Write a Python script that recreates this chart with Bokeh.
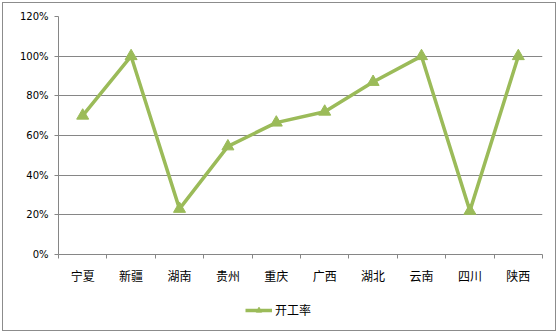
import numpy as np
from bokeh.plotting import figure
from bokeh.layouts import column
from bokeh.models import (ColumnDataSource, FixedTicker, NumeralTickFormatter,
                          Legend, LegendItem, Range1d)
from bokeh.embed import file_html
from bokeh.resources import INLINE

# Capacity utilisation by province
provinces = ["宁夏", "新疆", "湖南", "贵州", "重庆", "广西", "湖北", "云南", "四川", "陕西"]
rate = [0.70, 1.00, 0.23, 0.545, 0.665, 0.72, 0.87, 1.00, 0.22, 1.00]
y_ticks = [0.0, 0.2, 0.4, 0.6, 0.8, 1.0, 1.2]
series_name = "开工率"

GREEN = "#9BBB59"
GREY = "#868686"
CJK = "Noto Sans CJK SC"
LINE_STYLE = dict(line_color=GREEN, line_width=3.5)
MARK_STYLE = dict(marker="triangle", size=12, fill_color=GREEN, line_color=GREEN)

n = len(provinces)
xs = np.arange(n) + 0.5
src = ColumnDataSource(dict(x=xs, y=rate, name=provinces))

p = figure(width=552, height=290, output_backend="svg", toolbar_location=None,
           x_range=Range1d(0, n), y_range=Range1d(0, 1.2),
           min_border_left=55, min_border_right=13, min_border_top=13,
           min_border_bottom=39)
p.outline_line_color = None
p.background_fill_color = "white"
p.border_fill_color = "white"

# x axis: labels at category centres, tick marks on the boundaries
p.xaxis.ticker = FixedTicker(ticks=list(xs), minor_ticks=list(range(n + 1)))
p.xaxis.major_label_overrides = {float(x): name for x, name in zip(xs, provinces)}
p.xaxis.major_tick_line_color = None
p.xaxis.minor_tick_line_color = GREY
p.xaxis.minor_tick_out = 4
p.xaxis.minor_tick_in = 0
p.xaxis.axis_line_color = GREY
p.xaxis.major_label_text_font = CJK
p.xaxis.major_label_text_font_size = "12px"
p.xaxis.major_label_text_color = "black"
p.xaxis.major_label_standoff = 6
p.xgrid.grid_line_color = None

# y axis: percentages
p.yaxis.ticker = FixedTicker(ticks=y_ticks)
p.yaxis.formatter = NumeralTickFormatter(format="0%")
p.yaxis.axis_line_color = GREY
p.yaxis.major_tick_line_color = GREY
p.yaxis.major_tick_out = 4
p.yaxis.major_tick_in = 0
p.yaxis.minor_tick_line_color = None
p.yaxis.major_label_text_font = "DejaVu Sans"
p.yaxis.major_label_text_font_size = "10px"
p.yaxis.major_label_text_color = "black"
p.yaxis.major_label_standoff = 6
p.ygrid.grid_line_color = GREY
p.ygrid.grid_line_width = 1

p.line("x", "y", source=src, **LINE_STYLE)
p.scatter("x", "y", source=src, **MARK_STYLE)

# legend strip under the chart: same source and glyph styles; its y range
# lies below every rate, so only the legend swatch shows
key = figure(width=552, height=37, output_backend="svg", toolbar_location=None,
             x_range=Range1d(0, n), y_range=Range1d(-2, -1),
             x_axis_location=None, y_axis_location=None,
             min_border=0)
key.outline_line_color = None
key.xgrid.grid_line_color = None
key.ygrid.grid_line_color = None
key.border_fill_color = "white"
key_line = key.line("x", "y", source=src, **LINE_STYLE)
key_mark = key.scatter("x", "y", source=src, **MARK_STYLE)
legend = Legend(items=[LegendItem(label=series_name, renderers=[key_line, key_mark])],
                location=(187, 12), orientation="horizontal",
                border_line_color=None, background_fill_alpha=0,
                glyph_width=27, glyph_height=14, label_standoff=3,
                padding=0, margin=0, spacing=0,
                label_text_font=CJK, label_text_font_size="12px",
                label_text_color="black")
key.add_layout(legend, "center")

layout = column(p, key, spacing=0)
layout.margin = (2, 0, 0, 2)
layout.styles = {"border": "1px solid #8c8c8c", "background": "white"}

open("out.html", "w").write(file_html(layout, INLINE))
